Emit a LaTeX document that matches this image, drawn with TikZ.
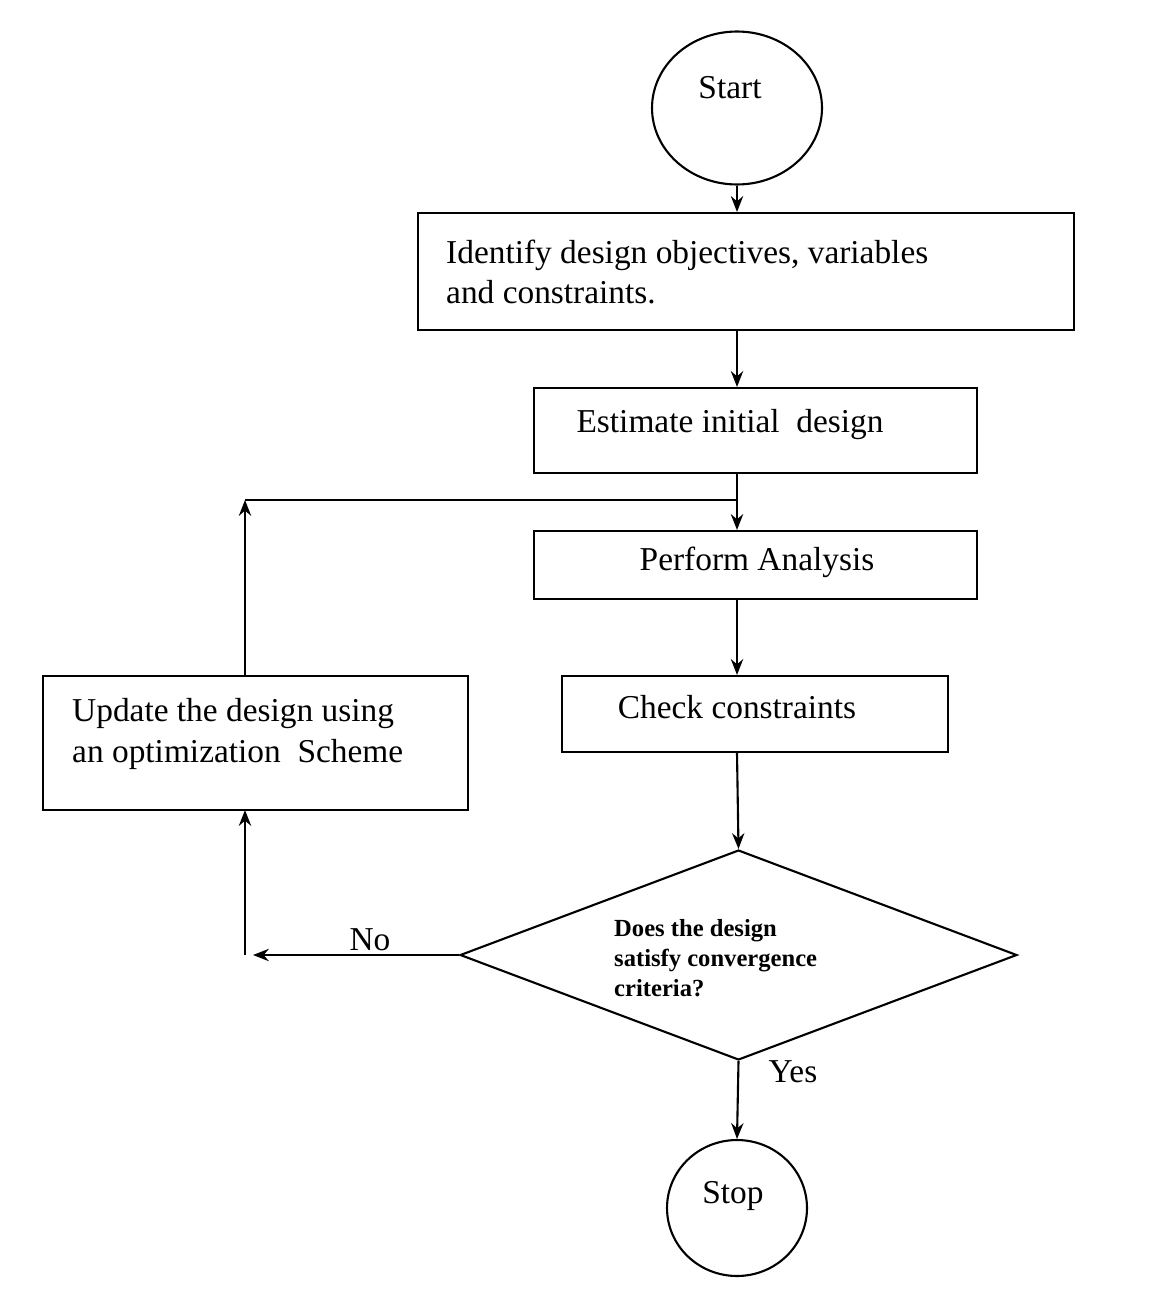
\documentclass[tikz,border=0pt]{standalone}
\usepackage{fontspec}
\setmainfont{Liberation Serif}
\usetikzlibrary{shapes.geometric,arrows.meta}
\begin{document}
\begin{tikzpicture}[x=0.02cm,y=-0.02cm,
  box/.style={draw,line width=1.2pt},
  txt/.style={font=\fontsize{19}{23}\selectfont},
  arr/.style={-{Stealth[length=9pt,width=7pt]},line width=1.2pt},
  ln/.style={line width=1.2pt}]
\useasboundingbox (0,0) rectangle (1154,1304);
\node[draw,line width=1.2pt,ellipse,minimum width=170\pgflinewidth*0+3.4cm,minimum height=3.06cm] (start) at (737,108) {};
\node[txt] at (730,88) {Start};
\node[box,minimum width=13.12cm,minimum height=2.34cm] (b1) at (746,271.5) {};
\node[txt,anchor=west,align=left] at (440,272) {Identify design objectives,\ variables\\and constraints.};
\node[box,minimum width=8.86cm,minimum height=1.7cm] (b2) at (755.5,430.5) {};
\node[txt] at (730,425) {Estimate initial\ \ design};
\node[box,minimum width=8.86cm,minimum height=1.36cm] (b3) at (755.5,565) {};
\node[txt] at (757,562) {Perform Analysis};
\node[box,minimum width=7.72cm,minimum height=1.52cm] (b4) at (755,714) {};
\node[txt] at (737,707) {Check constraints};
\node[draw,line width=1.2pt,diamond,aspect=2.65,minimum width=11.14cm,minimum height=4.2cm,inner sep=0pt] (d) at (738.5,955) {};
\node[anchor=west,align=left,font=\bfseries\fontsize{14}{17}\selectfont] at (608,958) {Does the design\\satisfy convergence\\criteria?};
\node[draw,line width=1.2pt,ellipse,minimum width=2.8cm,minimum height=2.72cm] (stop) at (737,1208) {};
\node[txt] at (733,1196) {Stop};
\node[box,minimum width=8.5cm,minimum height=2.68cm] (up) at (255.5,743) {};
\node[txt,anchor=west,align=left] at (66,734) {Update the design using\\an optimization\ \ Scheme};
\coordinate (c1) at (245,500);
\coordinate (c2) at (737,500);
\coordinate (c3) at (253,955);
\coordinate (c4) at (245,955);
\coordinate (c5) at (245,676);
\coordinate (c6) at (245,810);
\draw[arr] (start.south) -- (b1.north -| start.south);
\draw[arr] (b1.south -| start.south) -- (b2.north -| start.south);
\draw[arr] (b2.south -| start.south) -- (b3.north -| start.south);
\draw[arr] (b3.south -| start.south) -- (b4.north -| start.south);
\draw[arr] (b4.south -| start.south) -- (d.north);
\draw[arr] (d.south) -- (stop.north);
\draw[arr] (d.west) -- (c3);
\draw[arr] (c4) -- (c6);
\draw[arr] (c5) -- (c1);
\draw[ln] (c1) -- (c2);
\node[txt] at (370,940) {No};
\node[txt] at (793,1072) {Yes};
\end{tikzpicture}
\end{document}
